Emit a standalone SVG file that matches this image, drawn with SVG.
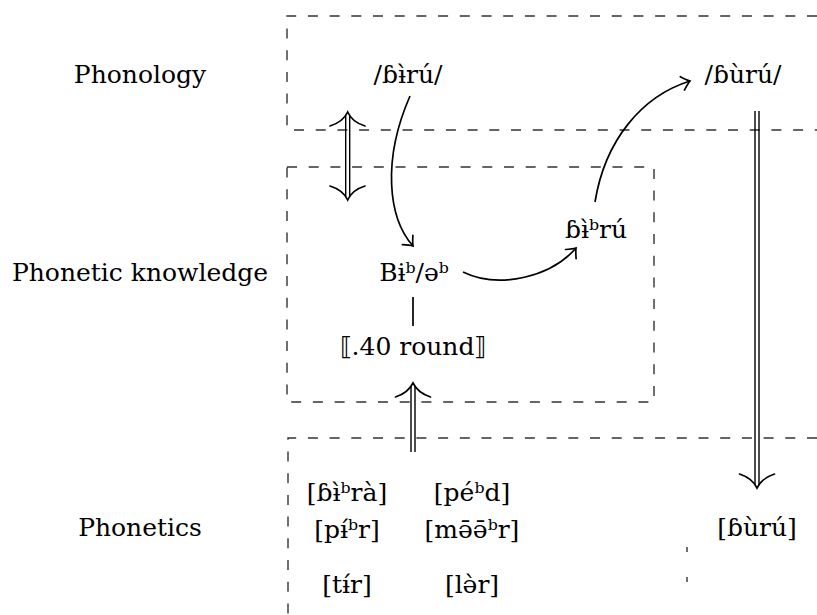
<svg xmlns="http://www.w3.org/2000/svg" width="817" height="615" viewBox="0 0 817 615">
<style>
text{font-family:"DejaVu Serif","Liberation Serif",serif;font-size:25px;fill:#000;text-anchor:middle}
.dash{fill:none;stroke:#333;stroke-width:1.4;stroke-dasharray:10 11.7}
.ln{fill:none;stroke:#000;stroke-width:1.7}
.dbl{fill:none;stroke:#000;stroke-width:1.4}
.head{fill:none;stroke:#000;stroke-width:1.7;stroke-linecap:round}
</style>
<defs>
<marker id="arr" markerWidth="20" markerHeight="20" refX="10" refY="10" orient="auto" markerUnits="userSpaceOnUse">
<path d="M 2 3 Q 7 8 10 10 Q 7 12 2 17" fill="none" stroke="#000" stroke-width="1.7" stroke-linecap="round"/>
</marker>
</defs>
<g id="regions">
<path class="dash" d="M 817 16 H 287 V 130 H 817"/>
<rect class="dash" x="287" y="167" width="367" height="235"/>
<path class="dash" d="M 817 438 H 288 V 615"/>
<path class="dash" style="stroke-dasharray:5 25" d="M 687 547 V 585"/>
</g>
<g id="labels">
<text x="140" y="83">Phonology</text>
<text x="140" y="281">Phonetic knowledge</text>
<text x="140" y="536">Phonetics</text>
</g>
<g id="n1"><text x="408" y="83">/ɓɨ̀rú/</text></g>
<g id="n2"><text x="743" y="83">/ɓùrú/</text></g>
<g id="n3"><text x="414" y="281">Bɨᵇ/əᵇ</text></g>
<g id="n4"><text x="596" y="238">ɓɨ̀ᵇrú</text></g>
<g id="n5"><text x="413" y="355">⟦.40 round⟧</text></g>
<g id="n6"><text x="757" y="536">[ɓùrú]</text></g>
<g id="phonetics-data">
<text x="347" y="501">[ɓɨ̀ᵇrà]</text>
<text x="472" y="501">[péᵇd]</text>
<text x="347" y="538">[pɨ́ᵇr]</text>
<text x="472" y="538">[mə̄ə̄ᵇr]</text>
<text x="347" y="593">[tɨ́r]</text>
<text x="472" y="593">[lə̀r]</text>
</g>
<g id="connectors">
<path class="ln" d="M 410 96 C 382 160 388 218 413 246" marker-end="url(#arr)"/>
<path class="ln" d="M 463 272 C 500 290 552 276 576 248" marker-end="url(#arr)"/>
<path class="ln" d="M 595 202 C 605 140 642 96 690 81" marker-end="url(#arr)"/>
<line class="ln" x1="413" y1="297" x2="413" y2="326"/>
<path class="dbl" d="M 345.7 115 V 197 M 349.7 115 V 197"/>
<path class="head" d="M 330 126 Q 343 122 347.7 112 Q 352 122 365 126"/>
<path class="head" d="M 330 186 Q 343 190 347.7 200 Q 352 190 365 186"/>
<path class="dbl" d="M 411 386 V 452 M 415 386 V 452"/>
<path class="head" d="M 395.5 397 Q 408 393 413 383 Q 418 393 430.5 397"/>
<path class="dbl" d="M 755 111 V 485 M 759 111 V 485"/>
<path class="head" d="M 739.5 474 Q 752 478 757 488 Q 762 478 774.5 474"/>
</g>
</svg>
